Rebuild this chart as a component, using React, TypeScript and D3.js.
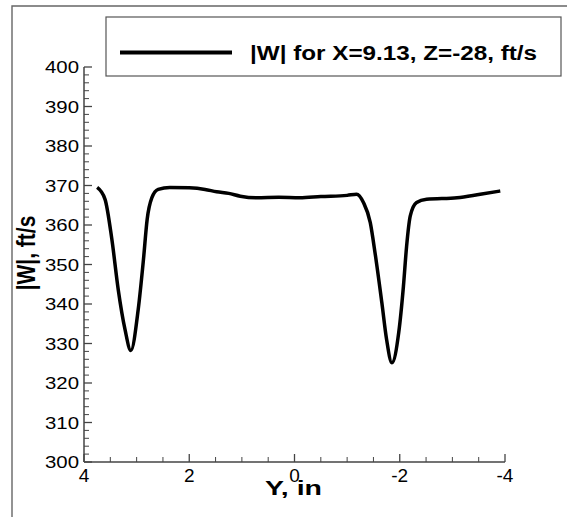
import React from "react";
import * as d3 from "d3";

// |W| along Y at X=9.13, Z=-28
const yIn = [
  3.75, 3.6, 3.47, 3.35, 3.22, 3.11, 2.97, 2.87, 2.8, 2.71, 2.59, 2.37, 2.0, 1.7,
  1.48, 1.25, 1.03, 0.72, 0.3, -0.1, -0.5, -1.0, -1.18, -1.31, -1.44, -1.53,
  -1.66, -1.75, -1.85, -1.98, -2.07, -2.13, -2.2, -2.32, -2.51, -3.09, -3.53, -3.91,
];
const wFts = [
  369.5, 366.5, 356.3, 343.7, 333.5, 328.2, 338.6, 351.3, 361.4, 366.9, 369.0,
  369.5, 369.4, 369.0, 368.4, 368.0, 367.3, 366.9, 367.0, 366.9, 367.2, 367.5,
  367.8, 365.7, 360.6, 353.0, 340.3, 331.0, 325.1, 332.7, 344.5, 354.6, 362.3,
  365.7, 366.5, 366.9, 367.8, 368.6,
];
const xTicks = [4, 2, 0, -2, -4];
const yTicks = [300, 310, 320, 330, 340, 350, 360, 370, 380, 390, 400];
const legendLabel = "|W| for X=9.13, Z=-28, ft/s";

const W = 567;
const H = 517;
const font = "'Liberation Sans', Arial, Helvetica, sans-serif";

export default function App() {
  const x = d3.scaleLinear().domain([4, -4]).range([84, 505]);
  const y = d3.scaleLinear().domain([300, 400]).range([462, 67]);

  const pts: [number, number][] = yIn.map((v, i) => [v, wFts[i]]);
  const line = d3
    .line<[number, number]>()
    .x((d) => x(d[0]))
    .y((d) => y(d[1]))
    .curve(d3.curveMonotoneX);

  const xMinor = d3.range(4, -4.01, -0.5).filter((v) => !xTicks.includes(v));
  const yMinor = d3.range(300, 400.1, 2).filter((v) => v % 10 !== 0);

  const axisColor = "#444";

  return (
    <svg
      width={W}
      height={H}
      style={{ position: "absolute", left: 0, top: 0, display: "block", background: "#fff" }}
      fontFamily={font}
    >
      {/* outer frame */}
      <path d={`M12,${H} L12,6 L${W},6`} fill="none" stroke="#666" strokeWidth={1.4} />

      {/* legend */}
      <rect x={106} y={17} width={455} height={59} fill="#fff" stroke="#555" strokeWidth={1.2} />
      <line x1={120} x2={232} y1={52.5} y2={52.5} stroke="#000" strokeWidth={4} />
      <text
        x={250}
        y={60}
        fontSize={20}
        fontWeight="bold"
        textLength={287}
        lengthAdjust="spacingAndGlyphs"
      >
        {legendLabel}
      </text>

      {/* axes */}
      <line x1={84} x2={84} y1={y(400)} y2={y(300)} stroke={axisColor} strokeWidth={1.5} />
      <line x1={84} x2={505} y1={y(300)} y2={y(300)} stroke={axisColor} strokeWidth={1.5} />

      {yTicks.map((t) => (
        <g key={"y" + t}>
          <line x1={84} x2={92} y1={y(t)} y2={y(t)} stroke={axisColor} strokeWidth={1.3} />
          <text
            x={79}
            y={y(t) + 6}
            fontSize={17}
            textAnchor="end"
            textLength={34}
            lengthAdjust="spacingAndGlyphs"
          >
            {t}
          </text>
        </g>
      ))}
      {yMinor.map((t) => (
        <line key={"ym" + t} x1={84} x2={89} y1={y(t)} y2={y(t)} stroke={axisColor} strokeWidth={1} />
      ))}

      {xTicks.map((t) => (
        <g key={"x" + t}>
          <line x1={x(t)} x2={x(t)} y1={y(300)} y2={y(300) - 8} stroke={axisColor} strokeWidth={1.3} />
          <text x={x(t)} y={482} fontSize={19} textAnchor="middle">
            {t}
          </text>
        </g>
      ))}
      {xMinor.map((t) => (
        <line key={"xm" + t} x1={x(t)} x2={x(t)} y1={y(300)} y2={y(300) - 5} stroke={axisColor} strokeWidth={1} />
      ))}

      {/* axis titles */}
      <text
        x={265}
        y={495}
        fontSize={21}
        fontWeight="bold"
        textLength={57}
        lengthAdjust="spacingAndGlyphs"
      >
        Y, in
      </text>
      <text
        transform="translate(35,253) rotate(-90) scale(1,1.2)"
        fontSize={21}
        fontWeight="bold"
        textAnchor="middle"
      >
        |W|, ft/s
      </text>

      {/* data */}
      <path d={line(pts) ?? ""} fill="none" stroke="#000" strokeWidth={3.5} strokeLinejoin="round" />
    </svg>
  );
}
